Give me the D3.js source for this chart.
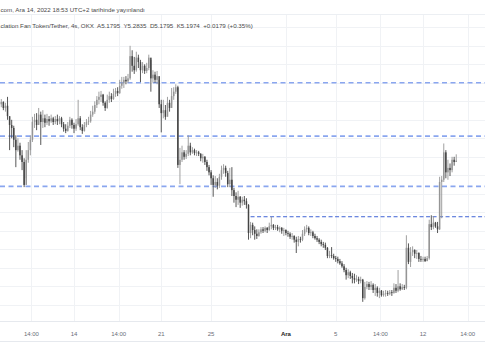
<!DOCTYPE html>
<html><head><meta charset="utf-8">
<script src="https://cdn.jsdelivr.net/npm/d3@7"></script>
<style>html,body{margin:0;padding:0;background:#fff;} svg{display:block;}</style>
</head><body>
<svg id="chart" width="485" height="360"></svg>
<script>
// ---- data (4h candles, ARG/USDT OKX) ----
const startTime = Date.UTC(2022, 10, 8, 0, 0);
const candleHours = 4;
const firstOpen = 5.94;
const closes = [
5.96,5.99,5.91,5.94,5.80,5.68,5.64,5.48,5.34,5.40,
5.27,5.18,4.87,5.21,5.34,5.48,5.72,5.75,5.68,5.82,
5.72,5.77,5.71,5.76,5.73,5.77,5.72,5.76,5.73,5.77,
5.69,5.63,5.60,5.67,5.75,5.68,5.63,5.69,5.77,5.65,
5.60,5.68,5.72,5.73,5.82,5.86,5.95,6.02,6.06,6.09,
5.98,5.91,6.02,6.07,6.03,6.10,6.14,6.11,6.21,6.25,
6.29,6.27,6.31,6.61,6.48,6.42,6.59,6.53,6.42,6.48,
6.41,6.45,6.59,6.31,6.36,6.29,6.34,5.96,5.84,5.88,
5.79,5.98,5.91,6.07,6.13,6.19,5.14,5.21,5.31,5.25,
5.29,5.40,5.31,5.34,5.30,5.31,5.29,5.23,5.25,5.18,
5.11,5.04,4.96,4.87,4.91,4.86,4.98,5.07,5.10,5.03,
4.88,4.94,4.80,4.72,4.67,4.71,4.63,4.67,4.65,4.60,
4.22,4.33,4.26,4.21,4.18,4.23,4.27,4.25,4.29,4.26,
4.31,4.33,4.29,4.30,4.27,4.29,4.25,4.26,4.22,4.21,
4.17,4.18,4.13,4.10,4.14,4.13,4.21,4.27,4.29,4.22,
4.23,4.18,4.15,4.13,4.10,4.07,4.06,4.02,3.91,3.92,
3.91,3.88,3.87,3.84,3.81,3.77,3.72,3.65,3.69,3.64,
3.61,3.59,3.60,3.57,3.59,3.34,3.49,3.53,3.49,3.52,
3.45,3.48,3.41,3.44,3.38,3.40,3.41,3.40,3.42,3.41,
3.48,3.44,3.50,3.46,3.49,3.48,4.02,3.83,3.96,3.99,
3.94,3.95,3.87,3.86,3.87,3.84,3.88,4.34,4.30,4.36,
4.31,4.27,4.91,4.94,5.31,5.04,5.10,5.07,5.21,5.1795,
5.1974];
const highs = [
6.02,6.03,6.00,5.98,6.06,5.79,5.75,5.67,5.54,5.50,
5.44,5.34,5.23,5.34,5.45,5.54,5.79,5.83,5.84,5.91,
5.86,5.88,5.82,5.83,5.80,5.82,5.79,5.80,5.82,5.80,
5.79,5.72,5.69,5.72,5.79,5.77,5.71,5.76,6.02,5.80,
5.69,5.72,5.76,5.79,5.87,5.94,6.00,6.07,6.13,6.14,
6.10,6.00,6.09,6.13,6.11,6.17,6.18,6.19,6.29,6.33,
6.33,6.34,6.37,6.75,6.69,6.60,6.67,6.63,6.56,6.53,
6.50,6.52,6.63,6.56,6.42,6.40,6.41,6.29,6.02,6.02,
5.95,6.06,6.02,6.18,6.19,6.23,6.21,5.37,5.40,5.34,
5.34,5.54,5.44,5.38,5.36,5.34,5.33,5.30,5.29,5.26,
5.21,5.14,5.07,5.00,4.99,4.96,5.02,5.13,5.15,5.13,
5.06,5.10,5.11,4.83,4.77,4.79,4.72,4.71,4.72,4.69,
4.61,4.37,4.36,4.31,4.27,4.27,4.30,4.30,4.31,4.30,
4.36,4.44,4.34,4.33,4.33,4.31,4.30,4.29,4.27,4.25,
4.23,4.22,4.19,4.17,4.18,4.17,4.26,4.31,4.33,4.31,
4.27,4.25,4.21,4.18,4.15,4.13,4.10,4.09,4.03,3.98,
4.03,3.94,3.91,3.90,3.87,3.84,3.80,3.75,3.73,3.71,
3.68,3.67,3.65,3.63,3.63,3.60,3.56,3.57,3.56,3.57,
3.54,3.53,3.50,3.48,3.45,3.44,3.45,3.44,3.45,3.45,
3.54,3.53,3.72,3.54,3.53,3.52,4.19,4.08,4.03,4.04,
4.00,3.99,3.96,3.91,3.90,3.90,3.91,4.40,4.46,4.45,
4.37,4.37,4.98,4.99,5.43,5.34,5.21,5.16,5.25,5.25,
5.2835];
const lows = [
5.91,5.92,5.88,5.86,5.75,5.34,5.50,5.38,5.11,5.32,
5.21,5.07,4.84,4.96,5.17,5.27,5.45,5.64,5.61,5.69,
5.41,5.64,5.65,5.68,5.67,5.71,5.68,5.69,5.68,5.69,
5.65,5.59,5.57,5.59,5.64,5.63,5.57,5.60,5.67,5.61,
5.56,5.59,5.65,5.68,5.71,5.79,5.83,5.91,5.96,5.99,
5.94,5.87,5.90,5.98,5.99,6.02,6.06,6.07,6.10,6.17,
6.18,6.23,6.25,6.29,6.40,6.37,6.40,6.45,6.26,6.38,
6.37,6.38,6.42,6.13,6.25,6.25,6.23,5.91,5.58,5.77,
5.75,5.86,5.86,5.96,6.02,6.10,5.10,4.88,5.18,5.21,
5.22,5.26,5.27,5.29,5.27,5.26,5.26,5.19,5.17,5.14,
5.06,5.00,4.87,4.71,4.83,4.81,4.83,4.94,5.02,4.98,
4.84,4.84,4.72,4.63,4.57,4.60,4.56,4.59,4.60,4.55,
4.13,4.15,4.19,4.13,4.14,4.17,4.21,4.22,4.23,4.22,
4.25,4.27,4.26,4.26,4.25,4.23,4.21,4.18,4.19,4.17,
4.14,4.13,4.09,3.95,4.04,4.09,4.11,4.18,4.23,4.19,
4.18,4.15,4.13,4.10,4.07,4.04,4.02,3.99,3.88,3.88,
3.88,3.86,3.83,3.81,3.79,3.75,3.69,3.59,3.61,3.60,
3.54,3.54,3.56,3.53,3.54,3.29,3.32,3.46,3.45,3.45,
3.41,3.37,3.36,3.34,3.36,3.36,3.36,3.37,3.38,3.37,
3.40,3.41,3.42,3.44,3.45,3.45,3.46,3.80,3.76,3.91,
3.88,3.87,3.83,3.83,3.83,3.83,3.84,3.86,4.26,4.27,
4.29,4.22,4.26,4.42,4.91,4.96,4.94,4.99,5.04,5.13,
5.1795];

const levelPrices = [6.25, 5.53, 4.85];
const activeLevelPrice = 4.44;
const activeLevelStartIndex = 121;
const gridPrices = [3.0,3.25,3.5,3.75,4.0,4.25,4.5,4.75,5.0,5.25,5.5,5.75,6.0,6.25,6.5,6.75,7.0,7.25];
const tickTimes = [
  Date.UTC(2022,10,10,14), Date.UTC(2022,10,14), Date.UTC(2022,10,17,14),
  Date.UTC(2022,10,21), Date.UTC(2022,10,25), Date.UTC(2022,11,1),
  Date.UTC(2022,11,5), Date.UTC(2022,11,8,14), Date.UTC(2022,11,12), Date.UTC(2022,11,15,14)];
const tickLabels = ["14:00","14","14:00","21","25","Ara","5","14:00","12","14:00"];
const monthLabel = "Ara";
const headerLine1 = "com, Ara 14, 2022 18:53 UTC+2 tarihinde yayınlandı";
const headerLine2 = "clation Fan Token/Tether, 4s, OKX  A5.1795  Y5.2835  D5.1795  K5.1974  +0.0179 (+0.35%)";

// ---- build ----
const candles = closes.map((c, i) => ({
  t: new Date(startTime + i * candleHours * 3600e3),
  o: i === 0 ? firstOpen : closes[i - 1],
  h: highs[i], l: lows[i], c
}));

const W = 485, H = 360;
const paneTop = 14, paneBottom = 321;
const svg = d3.select("#chart");
const FONT = "Liberation Sans, Arial, sans-serif";

const x = d3.scaleUtc()
  .domain([new Date(Date.UTC(2022,10,14)), new Date(Date.UTC(2022,11,12))])
  .range([74, 423]);
const y = d3.scaleLinear().domain([3, 7]).range([323.3, 27.3]);

// grid
const grid = svg.append("g");
grid.selectAll("line.v").data(tickTimes).join("line")
  .attr("x1", d => Math.round(x(new Date(d))) + 0.5).attr("x2", d => Math.round(x(new Date(d))) + 0.5)
  .attr("y1", paneTop).attr("y2", paneBottom)
  .attr("stroke", "#f0f2f5").attr("stroke-width", 1);
grid.selectAll("line.h").data(gridPrices.filter(p => y(p) > paneTop && y(p) < paneBottom)).join("line")
  .attr("x1", 0).attr("x2", W)
  .attr("y1", d => Math.round(y(d)) + 0.5).attr("y2", d => Math.round(y(d)) + 0.5)
  .attr("stroke", "#f0f2f5").attr("stroke-width", 1);

// frame lines
svg.append("line").attr("x1", 0).attr("x2", W).attr("y1", paneTop + 0.5).attr("y2", paneTop + 0.5)
  .attr("stroke", "#eceff3");
svg.append("line").attr("x1", 0).attr("x2", W).attr("y1", paneBottom + 0.5).attr("y2", paneBottom + 0.5)
  .attr("stroke", "#e6e9ee");
svg.append("line").attr("x1", 0).attr("x2", W).attr("y1", 341.5).attr("y2", 341.5)
  .attr("stroke", "#e6e9ee");

// level lines
svg.append("g").selectAll("line").data(levelPrices).join("line")
  .attr("x1", 0).attr("x2", W)
  .attr("y1", d => y(d)).attr("y2", d => y(d))
  .attr("stroke", "#8aa6ef").attr("stroke-width", 1.6)
  .attr("stroke-dasharray", "5,3.5");
svg.append("line")
  .attr("x1", x(candles[activeLevelStartIndex].t)).attr("x2", W)
  .attr("y1", y(activeLevelPrice)).attr("y2", y(activeLevelPrice))
  .attr("stroke", "#3f64d6").attr("stroke-width", 1)
  .attr("stroke-dasharray", "4,2.5");

// candles
const upCol = "#959595", downCol = "#444444";
const cg = svg.append("g");
const bw = 1.5;
cg.selectAll("line.wick").data(candles).join("line")
  .attr("x1", d => x(d.t)).attr("x2", d => x(d.t))
  .attr("y1", d => y(d.h)).attr("y2", d => y(d.l))
  .attr("stroke", d => d.c >= d.o ? upCol : downCol).attr("stroke-width", 0.9);
cg.selectAll("rect.body").data(candles).join("rect")
  .attr("x", d => x(d.t) - bw / 2).attr("width", bw)
  .attr("y", d => y(Math.max(d.o, d.c)))
  .attr("height", d => Math.max(0.8, Math.abs(y(d.o) - y(d.c))))
  .attr("fill", d => d.c >= d.o ? upCol : downCol);

// time axis labels
svg.append("g").selectAll("text").data(tickTimes).join("text")
  .attr("x", d => x(new Date(d))).attr("y", 336)
  .attr("text-anchor", "middle")
  .attr("font-family", FONT)
  .attr("font-size", 6)
  .attr("fill", (d, i) => tickLabels[i] === monthLabel ? "#222" : "#6a6d78")
  .attr("font-weight", (d, i) => tickLabels[i] === monthLabel ? "bold" : "normal")
  .text((d, i) => tickLabels[i]);

// header
svg.append("text").attr("x", 0.5).attr("y", 12)
  .attr("font-family", FONT).attr("font-size", 6.2)
  .attr("fill", "#4a4a4a").style("white-space", "pre").text(headerLine1);
svg.append("text").attr("x", 0.5).attr("y", 28)
  .attr("font-family", FONT).attr("font-size", 6.2)
  .attr("fill", "#4a4a4a").style("white-space", "pre").text(headerLine2);
</script>
</body></html>
